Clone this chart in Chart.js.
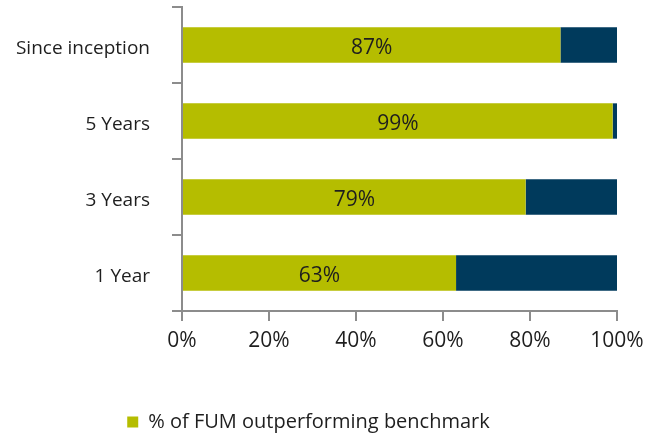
<!DOCTYPE html>
<html>
<head>
<meta charset="utf-8">
<script src="https://cdn.jsdelivr.net/npm/chart.js@4"></script>
<style>
    html, body { margin: 0; padding: 0; background: #fff; }
</style>
</head>
<body>
<canvas id="fum-chart" width="656" height="434"></canvas>
<script>
// 資料
const periods = ['Since inception', '5 Years', '3 Years', '1 Year'];
const outperforming = [87, 99, 79, 63];
const underperforming = [13, 1, 21, 37];
const xTicks = [0, 20, 40, 60, 80, 100];

const GREEN = '#b5bd00';
const NAVY = '#003a5c';
const AXIS = '#8c8c8c';
const TEXT = '#1e1e1e';
const FONT = '"Open Sans", "Noto Sans", sans-serif';

// 綠色長條中間的百分比文字
const barLabels = {
    id: 'barLabels',
    afterDatasetsDraw(chart) {
        const ctx = chart.ctx;
        const meta = chart.getDatasetMeta(0);
        ctx.save();
        ctx.fillStyle = TEXT;
        ctx.font = '21px ' + FONT;
        ctx.textAlign = 'center';
        ctx.textBaseline = 'middle';
        meta.data.forEach((bar, i) => {
            const cx = (bar.base + bar.x) / 2;
            ctx.fillText(outperforming[i] + '%', cx, bar.y + 3);
        });
        ctx.restore();
    }
};

new Chart(document.getElementById('fum-chart'), {
    type: 'bar',
    data: {
        labels: periods,
        datasets: [
            {
                label: '% of FUM outperforming benchmark',
                data: outperforming,
                backgroundColor: GREEN,
                barPercentage: 0.93,
                categoryPercentage: 0.5
            },
            {
                label: 'Other',
                data: underperforming,
                backgroundColor: NAVY,
                barPercentage: 0.93,
                categoryPercentage: 0.5
            }
        ]
    },
    options: {
        indexAxis: 'y',
        responsive: false,
        animation: false,
        layout: { padding: { top: 7, right: 39, left: 0, bottom: -8 } },
        plugins: {
            legend: {
                position: 'bottom',
                labels: {
                    filter: item => item.datasetIndex === 0,
                    boxWidth: 11,
                    boxHeight: 11,
                    padding: 2,
                    color: TEXT,
                    font: { family: FONT, size: 20 }
                }
            },
            tooltip: { enabled: false }
        },
        scales: {
            x: {
                stacked: true,
                min: 0,
                max: 100,
                afterBuildTicks: scale => {
                    scale.ticks = xTicks.map(v => ({ value: v }));
                },
                afterFit: scale => { scale.height = 99; },
                ticks: {
                    callback: v => v + '%',
                    color: TEXT,
                    padding: 7,
                    maxRotation: 0,
                    font: { family: FONT, size: 21 }
                },
                grid: {
                    drawOnChartArea: false,
                    drawTicks: true,
                    tickLength: 10,
                    color: AXIS,
                    lineWidth: 2
                },
                border: { color: AXIS, width: 2 }
            },
            y: {
                stacked: true,
                afterFit: scale => {
                    scale.width = 182;
                    scale.paddingTop = 0;
                    scale.paddingBottom = 0;
                },
                ticks: {
                    color: TEXT,
                    padding: 22,
                    labelOffset: 4,
                    font: { family: FONT, size: 19 }
                },
                grid: {
                    offset: true,
                    drawOnChartArea: false,
                    drawTicks: true,
                    tickLength: 10,
                    color: AXIS,
                    lineWidth: 2
                },
                border: { color: AXIS, width: 2 }
            }
        }
    },
    plugins: [barLabels]
});
</script>
</body>
</html>
